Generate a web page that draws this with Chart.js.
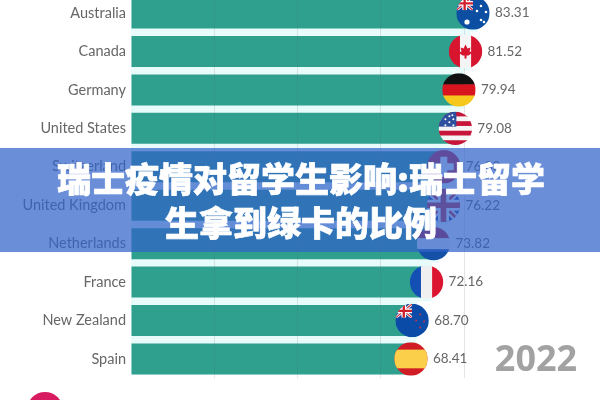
<!DOCTYPE html>
<html>
<head>
<meta charset="utf-8">
<script src="https://cdn.jsdelivr.net/npm/chart.js@4"></script>
<style>
  html, body { margin: 0; padding: 0; width: 600px; height: 400px; overflow: hidden; background: #fff; }
  #myChart { position: absolute; left: 0; top: -10px; }
  #band {
    position: absolute; left: 0; top: 148px; width: 600px; height: 104px;
    background: rgba(48, 99, 200, 0.72);
  }
  #title {
    position: absolute; left: 1px; top: 8px; width: 600px; text-align: center;
    font: 900 34px/44px "Noto Sans CJK SC", sans-serif; color: #fff;
    -webkit-text-stroke: 0.7px #fff;
  }
  #year {
    position: absolute; left: 490px; top: 333px; width: 92px; text-align: center;
    font: 700 36px/50px "Noto Sans", sans-serif; color: #a2a2a2;
  }
  #dot {
    position: absolute; left: 27px; top: 392px; width: 36px; height: 36px;
    border-radius: 50%; background: #d81b60;
  }
</style>
</head>
<body>
<canvas id="myChart" width="600" height="400"></canvas>
<div id="year">2022</div>
<div id="dot"></div>
<div id="band"><div id="title">瑞士疫情对留学生影响:瑞士留学<br>生拿到绿卡的比例</div></div>
<script>
const categories = ["Australia", "Canada", "Germany", "United States", "Switzerland",
  "United Kingdom", "Netherlands", "France", "New Zealand", "Spain"];
const scores = [83.31, 81.52, 79.94, 79.08, 76.30, 76.22, 73.82, 72.16, 68.70, 68.41];
const scoreLabels = ["83.31", "81.52", "79.94", "79.08", "76.30", "76.22", "73.82", "72.16", "68.70", "68.41"];

const R = 16.7; // flag radius

function stripesH(ctx, cols) {
  const h = 2 * R / cols.length;
  cols.forEach((c, i) => { ctx.fillStyle = c; ctx.fillRect(-R, -R + i * h, 2 * R, h + 0.5); });
}
function stripesV(ctx, cols) {
  const w = 2 * R / cols.length;
  cols.forEach((c, i) => { ctx.fillStyle = c; ctx.fillRect(-R + i * w, -R, w + 0.5, 2 * R); });
}
function jack(ctx, x, y, w, h) {
  ctx.save();
  ctx.beginPath(); ctx.rect(x, y, w, h); ctx.clip();
  ctx.fillStyle = "#1c3f94"; ctx.fillRect(x, y, w, h);
  const line = (a, b, c, d, col, lw) => {
    ctx.strokeStyle = col; ctx.lineWidth = lw;
    ctx.beginPath(); ctx.moveTo(a, b); ctx.lineTo(c, d); ctx.stroke();
  };
  const u = h / 6;
  line(x, y, x + w, y + h, "#fff", u * 1.2);
  line(x + w, y, x, y + h, "#fff", u * 1.2);
  line(x, y, x + w, y + h, "#d0202e", u * 0.5);
  line(x + w, y, x, y + h, "#d0202e", u * 0.5);
  line(x + w / 2, y, x + w / 2, y + h, "#fff", u * 2);
  line(x, y + h / 2, x + w, y + h / 2, "#fff", u * 2);
  line(x + w / 2, y, x + w / 2, y + h, "#d0202e", u);
  line(x, y + h / 2, x + w, y + h / 2, "#d0202e", u);
  ctx.restore();
}
function dots(ctx, pts, col, r) {
  ctx.fillStyle = col;
  pts.forEach(p => { ctx.beginPath(); ctx.arc(p[0], p[1], r, 0, Math.PI * 2); ctx.fill(); });
}

const flags = {
  "Australia": ctx => {
    ctx.fillStyle = "#0b4ea2"; ctx.fillRect(-R, -R, 2 * R, 2 * R);
    jack(ctx, -R, -R, R, 14);
    dots(ctx, [[-6, 9]], "#fff", 2.6);
    dots(ctx, [[8, -7], [13, -1], [8, 7], [4, -2], [11, 9]], "#fff", 1.3);
  },
  "Canada": ctx => {
    stripesV(ctx, ["#d8152f", "#f4f4f4", "#d8152f"]);
    ctx.fillStyle = "#d8152f";
    ctx.beginPath();
    [[0, -7], [2, -3], [5, -4], [4, 0], [7, 1], [3, 4], [1, 4], [1, 7], [-1, 7], [-1, 4], [-3, 4], [-7, 1], [-4, 0], [-5, -4], [-2, -3]]
      .forEach((p, i) => i ? ctx.lineTo(p[0], p[1]) : ctx.moveTo(p[0], p[1]));
    ctx.fill();
  },
  "Germany": ctx => stripesH(ctx, ["#111", "#d8141e", "#f6c81e"]),
  "United States": ctx => {
    stripesH(ctx, ["#c8163a", "#f5f5f5", "#c8163a", "#f5f5f5", "#c8163a", "#f5f5f5", "#c8163a"]);
    ctx.fillStyle = "#2c4f9e"; ctx.fillRect(-R, -R, R + 1, 15);
    dots(ctx, [[-10, -9], [-6, -12], [-6, -6], [-2, -9], [-2, -3], [-10, -3], [-3, -13]], "#fff", 1);
  },
  "Switzerland": ctx => {
    ctx.fillStyle = "#d8152f"; ctx.fillRect(-R, -R, 2 * R, 2 * R);
    ctx.fillStyle = "#fff"; ctx.fillRect(-3.5, -10, 7, 20); ctx.fillRect(-10, -3.5, 20, 7);
  },
  "United Kingdom": ctx => jack(ctx, -R, -R, 2 * R, 2 * R),
  "Netherlands": ctx => stripesH(ctx, ["#c8102e", "#f4f4f4", "#1450a8"]),
  "France": ctx => stripesV(ctx, ["#1450b4", "#f0f0f0", "#dc1430"]),
  "New Zealand": ctx => {
    ctx.fillStyle = "#0b4ba8"; ctx.fillRect(-R, -R, 2 * R, 2 * R);
    jack(ctx, -R, -R, R, 14);
    dots(ctx, [[8, -6], [12, 1], [8, 7], [4, 0]], "#c8304a", 1);
  },
  "Spain": ctx => {
    ctx.fillStyle = "#d01c24"; ctx.fillRect(-R, -R, 2 * R, 2 * R);
    ctx.fillStyle = "#fbcf4a"; ctx.fillRect(-R, -R / 2 - 1, 2 * R, R + 2);
  }
};

// pale halo in the gaps, one full row per bar
const backStrip = {
  id: "backStrip",
  beforeDatasetsDraw(chart) {
    const { ctx, chartArea, scales } = chart;
    const rowH = chartArea.height / categories.length;
    const barH = rowH * 0.806;
    ctx.save();
    ctx.fillStyle = "#e6fbfa";
    categories.forEach((name, i) => {
      const y = scales.y.getPixelForValue(i);
      const bottom = i === categories.length - 1 ? y + barH / 2 : y + rowH / 2;
      ctx.fillRect(chartArea.left, y - rowH / 2, scales.x.getPixelForValue(scores[i]) - chartArea.left, bottom - y + rowH / 2);
    });
    ctx.restore();
  }
};

// flags and value labels at the end of each bar
const flagLabels = {
  id: "flagLabels",
  afterDraw(chart) {
    const { ctx, scales } = chart;
    categories.forEach((name, i) => {
      const x = scales.x.getPixelForValue(scores[i]) - 5;
      const y = scales.y.getPixelForValue(i);
      ctx.save();
      ctx.translate(x, y);
      ctx.beginPath();
      ctx.arc(0, 0, R, 0, Math.PI * 2);
      ctx.clip();
      flags[name](ctx);
      ctx.restore();
      ctx.save();
      ctx.font = '13.5px Lato';
      ctx.fillStyle = "#666";
      ctx.textBaseline = "middle";
      ctx.fillText(scoreLabels[i], x + 22, y);
      ctx.restore();
    });
  }
};

new Chart(document.getElementById("myChart").getContext("2d"), {
  type: "bar",
  data: {
    labels: categories,
    datasets: [{
      data: scores,
      backgroundColor: "#2fa08e",
      barPercentage: 0.806,
      categoryPercentage: 1
    }]
  },
  options: {
    indexAxis: "y",
    responsive: false,
    animation: false,
    layout: { padding: { top: 3.8, bottom: 11.8, left: 0, right: 52.5 } },
    plugins: { legend: { display: false }, tooltip: { enabled: false } },
    scales: {
      x: {
        min: 0,
        max: 100,
        ticks: { display: false, stepSize: 20 },
        border: { display: false },
        grid: {
          z: 1,
          drawTicks: false,
          color: c => (c.tick.value > 0 && c.tick.value <= 80) ? "rgba(90,100,100,0.16)" : "transparent"
        }
      },
      y: {
        afterFit: s => { s.width = 131; s.paddingTop = 0; s.paddingBottom = 0; },
        grid: { display: false, drawTicks: false },
        border: { display: false },
        ticks: { color: "#666", padding: 5, font: { family: "Lato", size: 14.5 } }
      }
    }
  },
  plugins: [backStrip, flagLabels]
});
</script>
</body>
</html>
